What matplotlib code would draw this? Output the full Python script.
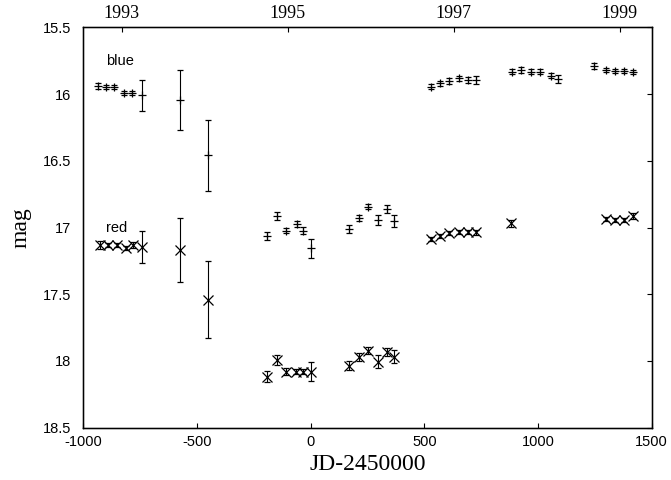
import matplotlib
matplotlib.use("Agg")
import matplotlib.pyplot as plt

# ---- data ----
blue_x = [-934, -900, -865, -821, -787, -743, -575, -453,
          -191, -150, -109, -62, -32, 1,
          167, 214, 253, 297, 334, 366,
          529, 569, 610, 652, 690, 727,
          884, 924, 969, 1008, 1055, 1089,
          1246, 1297, 1338, 1379, 1419]
blue_y = [15.94, 15.945, 15.95, 15.99, 15.99, 16.01, 16.045, 16.46,
          17.06, 16.915, 17.024, 16.974, 17.024, 17.156,
          17.013, 16.93, 16.844, 16.944, 16.864, 16.95,
          15.945, 15.92, 15.903, 15.883, 15.895, 15.895,
          15.833, 15.82, 15.833, 15.833, 15.862, 15.887,
          15.79, 15.82, 15.827, 15.827, 15.837]
blue_err = [0.025, 0.015, 0.015, 0.015, 0.015, 0.115, 0.225, 0.265,
            0.03, 0.03, 0.02, 0.02, 0.025, 0.07,
            0.03, 0.025, 0.02, 0.035, 0.03, 0.045,
            0.02, 0.02, 0.02, 0.02, 0.025, 0.03,
            0.02, 0.02, 0.02, 0.02, 0.02, 0.03,
            0.02, 0.015, 0.015, 0.015, 0.015]

red_x = [-927, -893, -853, -812, -780, -743, -575, -450,
         -191, -150, -109, -65, -35, 1,
         167, 214, 253, 297, 334, 366,
         529, 569, 610, 654, 690, 727,
         881,
         1297, 1338, 1379, 1419]
red_y = [17.13, 17.13, 17.13, 17.156, 17.13, 17.144, 17.17, 17.54,
         18.118, 17.993, 18.08, 18.08, 18.08, 18.08,
         18.035, 17.973, 17.923, 18.005, 17.935, 17.968,
         17.088, 17.064, 17.043, 17.031, 17.036, 17.036,
         16.969,
         16.936, 16.944, 16.944, 16.914]
red_err = [0.03, 0.015, 0.015, 0.015, 0.02, 0.12, 0.24, 0.29,
           0.04, 0.04, 0.025, 0.02, 0.02, 0.07,
           0.035, 0.03, 0.025, 0.05, 0.03, 0.05,
           0.015, 0.015, 0.015, 0.015, 0.015, 0.02,
           0.025,
           0.015, 0.015, 0.015, 0.02]

year_ticks = [-831, -100, 630, 1360]
year_labels = ["1993", "1995", "1997", "1999"]
x_ticks = [-1000, -500, 0, 500, 1000, 1500]
y_ticks = [15.5, 16, 16.5, 17, 17.5, 18, 18.5]

SANS = ["Liberation Sans", "DejaVu Sans"]
SERIF = ["Liberation Serif", "DejaVu Serif"]

fig = plt.figure(figsize=(6.71, 4.80), dpi=100)
ax = fig.add_axes([83.3 / 671, 52.3 / 480, 568.4 / 671, 400.4 / 480])

ax.errorbar(blue_x, blue_y, yerr=blue_err, fmt="+", color="black",
            ms=6, mew=0.9, elinewidth=0.8, capsize=2, capthick=0.8)
ax.errorbar(red_x, red_y, yerr=red_err, fmt="x", color="black",
            ms=6.5, mew=0.9, elinewidth=0.8, capsize=2, capthick=0.8)

ax.text(-838, 15.75, "blue", fontsize=10.5, family=SANS, ha="center", va="center")
ax.text(-853, 17.006, "red", fontsize=10.5, family=SANS, ha="center", va="center")

ax.set_xlim(-1000, 1500)
ax.set_ylim(18.5, 15.5)
ax.set_xticks(x_ticks)
ax.set_xticklabels([str(t) for t in x_ticks], family=SANS, fontsize=10.5)
ax.set_yticks(y_ticks)
ax.set_yticklabels(["15.5", "16", "16.5", "17", "17.5", "18", "18.5"], family=SANS, fontsize=10.5)
ax.tick_params(axis="x", direction="in", length=3.5, width=0.8, pad=5, top=False)
ax.tick_params(axis="y", direction="in", length=0, pad=9)

for s in ax.spines.values():
    s.set_linewidth(1.0)

ax.set_xlabel("JD-2450000", family=SERIF, fontsize=17, labelpad=4)
ax.set_ylabel("mag", family=SERIF, fontsize=17, labelpad=8)

# right side ticks (inward) via twin axis
axr = ax.twinx()
axr.set_ylim(18.5, 15.5)
axr.set_yticks(y_ticks)
axr.tick_params(axis="y", direction="in", length=3.5, width=0.8, labelright=False)

# top year axis
axt = ax.twiny()
axt.set_xlim(-1000, 1500)
axt.set_xticks(year_ticks)
axt.set_xticklabels(year_labels, family=SERIF, fontsize=13)
axt.tick_params(axis="x", direction="in", length=3.5, width=0.8, pad=4)

fig.savefig("out.png", dpi=100)
